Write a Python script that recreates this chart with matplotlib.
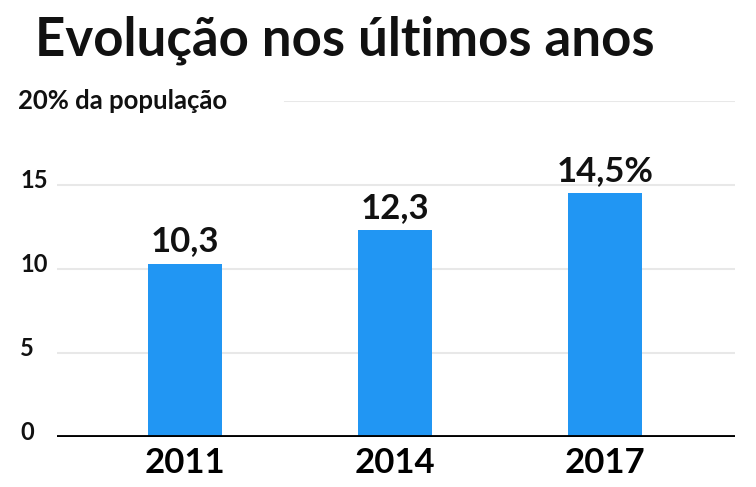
import matplotlib.pyplot as plt
import matplotlib.transforms as mtransforms

anos = ["2011", "2014", "2017"]
valores = [10.3, 12.3, 14.5]
rotulos = ["10,3", "12,3", "14,5%"]
yticks = [0, 5, 10, 15]

plt.rcParams['font.family'] = ['Lato', 'DejaVu Sans']
plt.rcParams['font.weight'] = 'bold'

fig = plt.figure(figsize=(7.56, 4.87), dpi=100)
ax = fig.add_axes([57 / 756, 50 / 487, 678 / 756, 336 / 487])

x = range(len(anos))
ax.bar(x, valores, width=0.35, color="#2196F3", zorder=3)
ax.set_xlim(-0.61, 2.62)
ax.set_ylim(0, 20)

# linhas de grade
for v in [5, 10, 15]:
    ax.axhline(v, color="#e8e8e8", lw=1.5, zorder=1)
ax.axhline(20, xmin=0.336, color="#e8e8e8", lw=1.5, zorder=1)
ax.axhline(0, color="black", lw=3.5, zorder=4)

for s in ax.spines.values():
    s.set_visible(False)
ax.set_yticks([])
ax.set_xticks(list(x))
ax.set_xticklabels(anos, fontsize=25, fontweight='bold')
ax.tick_params(axis='x', length=0, pad=7)

trans = mtransforms.blended_transform_factory(fig.transFigure, ax.transData)
up = mtransforms.offset_copy(trans, fig=fig, x=0, y=5, units='dots')
for v in yticks:
    ax.text(20 / 756, v, str(v), transform=up, ha='left', va='center',
            fontsize=17, fontweight='bold', color="#111111")
ax.text(18 / 756, 20, "20% da população", transform=trans, ha='left', va='center',
        fontsize=18.5, fontweight='bold', color="#111111")

for i, (v, r) in enumerate(zip(valores, rotulos)):
    ax.text(i, v + 0.4, r, ha='center', va='bottom', fontsize=25,
            fontweight='bold', color="#111111")

fig.text(35 / 756, 1 - 40 / 487, "Evolução nos últimos anos", ha='left', va='center',
         fontsize=38, fontweight='bold', color="#111111")

fig.savefig("out.png", dpi=100)
